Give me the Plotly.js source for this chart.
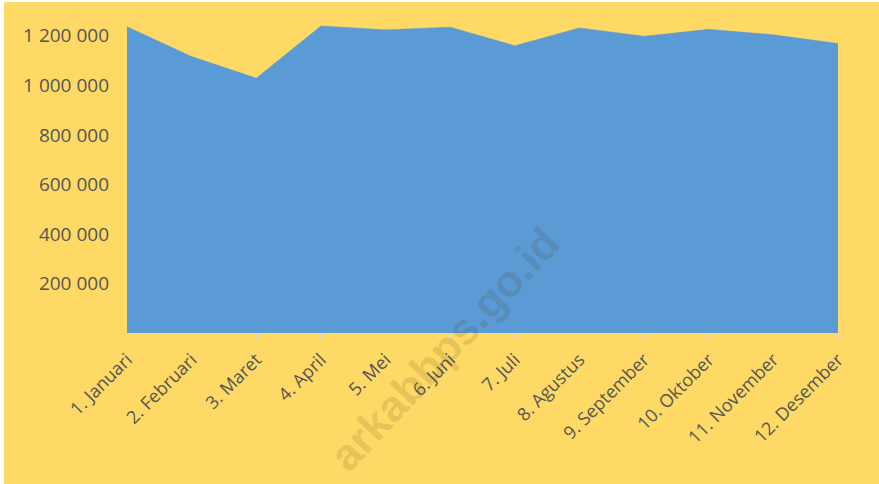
<!DOCTYPE html>
<html>
<head>
<meta charset="utf-8">
<script src="https://cdn.plot.ly/plotly-3.0.1.min.js"></script>
<style>
  html, body { margin: 0; padding: 0; background: #ffffff; overflow: hidden; }
  #chart { position: absolute; left: 4px; top: 2px; width: 875px; height: 482px; }
</style>
</head>
<body>
<div id="chart"></div>
<script>
const categories = ["1. Januari", "2. Februari", "3. Maret", "4. April", "5. Mei", "6. Juni",
                    "7. Juli", "8. Agustus", "9. September", "10. Oktober", "11. November", "12. Desember"];
const values = [1237000, 1116000, 1029000, 1240000, 1224000, 1235000,
                1160000, 1232000, 1198000, 1226000, 1204000, 1169000];
const yTickVals = [200000, 400000, 600000, 800000, 1000000, 1200000];
const watermarkText = "arkabbps.go.id";

const textColor = "#555555";
const family = "Open Sans, Liberation Sans, sans-serif";

const trace = {
  type: "scatter",
  mode: "lines",
  x: categories,
  y: values,
  fill: "tozeroy",
  fillcolor: "#5B9BD5",
  line: { color: "#5B9BD5", width: 0.5 },
  hoverinfo: "x+y",
  showlegend: false
};

const layout = {
  width: 875,
  height: 482,
  margin: { l: 123, r: 41, t: 14, b: 151 },
  paper_bgcolor: "#FFD966",
  plot_bgcolor: "#FFD966",
  separators: ". ",
  font: { family: family, size: 17, color: textColor },
  showlegend: false,
  xaxis: {
    type: "category",
    range: [0, categories.length - 1],
    tickangle: -45,
    ticks: "outside",
    ticklen: 5,
    tickcolor: "#d9d9d9",
    showline: true,
    linecolor: "#d9d9d9",
    linewidth: 1,
    showgrid: false,
    zeroline: false,
    ticklabelstandoff: 3,
    tickfont: { family: family, size: 18, color: textColor }
  },
  yaxis: {
    range: [0, 1280000],
    tickvals: yTickVals,
    tickformat: ",d",
    ticks: "",
    showline: false,
    showgrid: true,
    gridcolor: "#d9d9d9",
    gridwidth: 1,
    zeroline: false,
    ticklabelstandoff: 17,
    tickfont: { family: family, size: 19, color: textColor }
  },
  annotations: [{
    xref: "paper", yref: "paper",
    x: 0.447, y: -0.05,
    xanchor: "center", yanchor: "middle",
    text: watermarkText,
    showarrow: false,
    textangle: -47,
    font: { family: "Liberation Sans, Arial, sans-serif", size: 44, color: "rgba(70,50,0,0.15)", weight: "bold" }
  }]
};

Plotly.newPlot("chart", [trace], layout, { displayModeBar: false, staticPlot: true });
</script>
</body>
</html>
